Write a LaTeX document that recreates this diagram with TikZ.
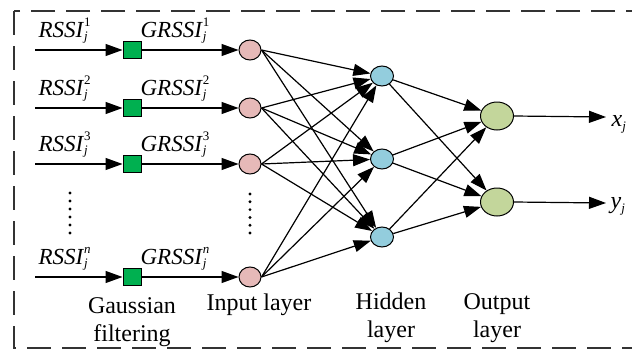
\documentclass[tikz,border=0pt]{standalone}
\usepackage{fontspec}
\setmainfont{LiberationSerif}[Extension=.ttf, UprightFont=*-Regular, ItalicFont=*-Italic, BoldFont=*-Bold, BoldItalicFont=*-BoldItalic]
\newfontfamily\labelserif{LiberationSerif}[Extension=.ttf, UprightFont=*-Regular, ItalicFont=*-Italic, BoldFont=*-Bold, BoldItalicFont=*-BoldItalic]
\usetikzlibrary{arrows.meta,shapes.geometric}

\definecolor{filtgreen}{HTML}{00B050}
\definecolor{inpink}{HTML}{E6B9B8}
\definecolor{hidblue}{HTML}{93CDDD}
\definecolor{outolive}{HTML}{C3D69B}

% signal name with stacked superscript index and subscript j
\newcommand{\signame}[2]{\textit{#1}\rlap{\raisebox{0.46em}{\fontsize{13}{13}\selectfont #2}}\raisebox{-0.15em}{\fontsize{13}{13}\selectfont\textit{j}}}
\newcommand{\coordname}[1]{\textit{#1}\raisebox{-0.2em}{\fontsize{13}{13}\selectfont\textit{j}}}

\begin{document}
\begin{tikzpicture}[x=1pt,y=-1pt,
  line width=1.2pt,
  >={Triangle[length=17pt,width=12pt]},
  filterbox/.style={draw, fill=filtgreen, minimum width=18pt, minimum height=17pt, inner sep=0pt, line width=1pt},
  inneuron/.style={ellipse, draw, fill=inpink, minimum width=22pt, minimum height=20pt, inner sep=0pt, line width=1pt},
  hidneuron/.style={ellipse, draw, fill=hidblue, minimum width=23pt, minimum height=20pt, inner sep=0pt, line width=1pt},
  outneuron/.style={ellipse, draw, fill=outolive, minimum width=33pt, minimum height=28pt, inner sep=0pt, line width=1pt},
  siglabel/.style={anchor=base west, inner sep=0pt, font=\labelserif\fontsize{23}{25}\selectfont},
  layerlabel/.style={anchor=base, inner sep=0pt, font=\labelserif\fontsize{24}{28}\selectfont},
  framebox/.style={dash pattern=on 24pt off 11pt, line width=1.3pt, draw=black!80}
]
\useasboundingbox (0,0) rectangle (632,351);
\clip (0,0) rectangle (632,351);

% dashed frame
\draw[framebox] (14,11) rectangle (660,348);

% input rows: filtering boxes and input neurons
\foreach \i/\y/\s in {1/50/1, 2/108/2, 3/164/3, 4/277/\textit{n}}{
  \coordinate (src\i) at (35,\y);
  \node[filterbox] (g\i) at (132,\y) {};
  \node[inneuron] (in\i) at (250,\y) {};
  \draw[->] (src\i) -- (g\i);
  \draw[->] (g\i) -- (in\i);
  \node[siglabel] (r\i) at (38,\y-13) {\signame{RSSI}{\s}};
  \node[siglabel] (gr\i) at (140,\y-13) {\signame{GRSSI}{\s}};
}

% ellipsis dots between row 3 and row n
\foreach \k in {0,...,5}{
  \fill (70,193+8*\k) circle (1.6pt);
  \fill (250,194+7.8*\k) circle (1.6pt);
}

% hidden and output neurons
\node[hidneuron] (h1) at (382,76) {};
\node[hidneuron] (h2) at (382,159) {};
\node[hidneuron] (h3) at (382,237) {};
\node[outneuron] (o1) at (497,116) {};
\node[outneuron] (o2) at (497,202) {};

% full connections
\foreach \i in {1,...,4}{
  \foreach \j in {1,2,3}{
    \draw[->] (in\i.east) -- (h\j);
  }
}
\foreach \j in {1,2,3}{
  \foreach \k in {1,2}{
    \draw[->] (h\j) -- (o\k);
  }
}

% outputs
\coordinate (xe) at (606,117);
\coordinate (ye) at (606,203);
\draw[->] (o1.east) -- (xe);
\draw[->] (o2.east) -- (ye);
\node[siglabel, font=\labelserif\fontsize{24}{26}\selectfont] (xl) at (611,126) {\coordname{x}};
\node[siglabel, font=\labelserif\fontsize{24}{26}\selectfont] (yl) at (610,208) {\coordname{y}};

% layer captions
\node[layerlabel] (c1a) at (132,313) {Gaussian};
\node[layerlabel] (c1b) at (132,341) {filtering};
\node[layerlabel] (c2) at (259,310) {Input layer};
\node[layerlabel] (c3a) at (391,309) {Hidden};
\node[layerlabel] (c3b) at (391,337) {layer};
\node[layerlabel] (c4a) at (497,309) {Output};
\node[layerlabel] (c4b) at (497,337) {layer};
\end{tikzpicture}
\end{document}
